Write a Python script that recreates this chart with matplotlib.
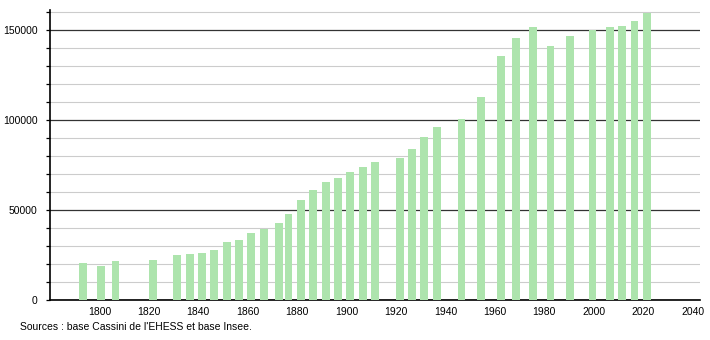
import matplotlib
matplotlib.use("Agg")
import matplotlib.pyplot as plt
from matplotlib.ticker import MultipleLocator

plt.rcParams['font.family'] = ['Liberation Sans', 'DejaVu Sans']

# population by census year
years = [1793, 1800, 1806, 1821, 1831, 1836, 1841, 1846, 1851, 1856,
         1861, 1866, 1872, 1876, 1881, 1886, 1891, 1896, 1901, 1906,
         1911, 1921, 1926, 1931, 1936, 1946, 1954, 1962, 1968, 1975,
         1982, 1990, 1999, 2006, 2011, 2016, 2021]
population = [20760, 18888, 21600, 22397, 24817, 25352, 26184, 27543, 32253, 33493,
              37074, 39193, 42573, 47939, 55453, 60855, 65428, 67736, 71326, 74113,
              76847, 78578, 83815, 90759, 96257, 100664, 112844, 135694, 145357, 151705,
              140942, 146703, 149867, 151543, 152071, 155090, 159346]
source = "Sources : base Cassini de l'EHESS et base Insee."

fig = plt.figure(figsize=(7.1, 3.4), dpi=100)
ax = fig.add_axes([50/710, 40/340, 650/710, 290/340])

ax.bar([y + 0.5 for y in years], population, width=3.2, color='#ade4ad', zorder=3)

ax.set_xlim(1780, 2043)
ax.set_ylim(0, 161000)
ax.yaxis.set_major_locator(MultipleLocator(50000))
ax.yaxis.set_minor_locator(MultipleLocator(10000))
ax.set_xticks(range(1800, 2041, 20))

ax.grid(axis='y', which='minor', color='#cccccc', linewidth=0.8, zorder=1)
ax.grid(axis='y', which='major', color='#333333', linewidth=0.9, zorder=2)

for s in ['top', 'right']:
    ax.spines[s].set_visible(False)
ax.spines['left'].set_linewidth(1.2)
ax.spines['bottom'].set_linewidth(1.2)
ax.tick_params(axis='x', length=0, pad=5, labelsize=7.5)
ax.tick_params(axis='y', which='both', length=3, width=0.9, pad=6, labelsize=7.5)

fig.text(20/710, 1 - 327/340, source, fontsize=7.5, va='center', ha='left')

fig.savefig('out.png', dpi=100)
